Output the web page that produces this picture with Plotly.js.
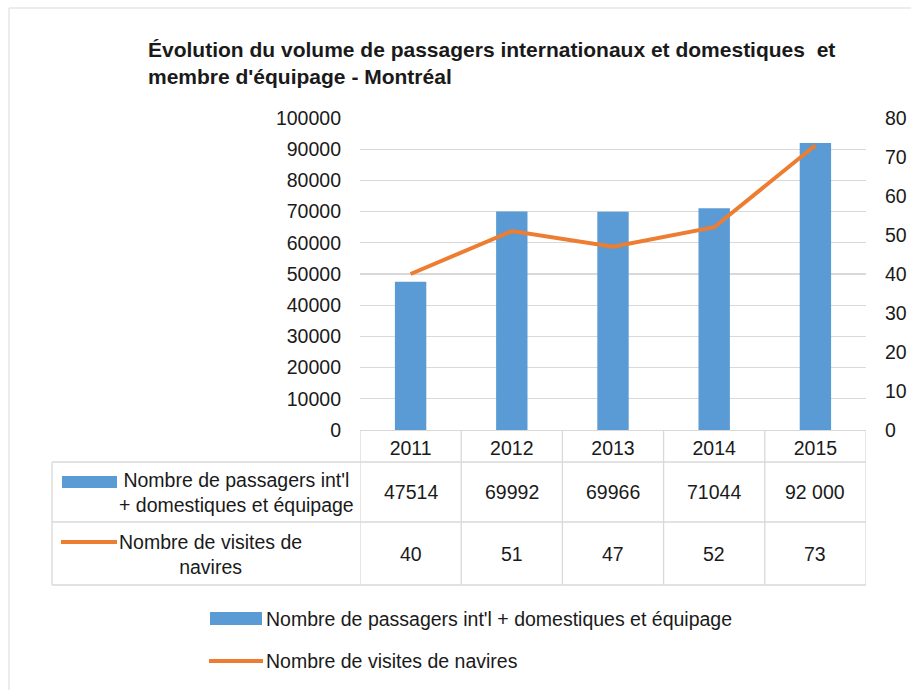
<!DOCTYPE html>
<html>
<head>
<meta charset="utf-8">
<script src="https://cdn.plot.ly/plotly-3.0.1.min.js"></script>
<style>html,body{margin:0;padding:0;background:#fff;}#chart{width:911px;height:690px;}</style>
</head>
<body>
<div id="chart"></div>
<script>
// ---- data ----
const years = ['2011', '2012', '2013', '2014', '2015'];
const passengers = [47514, 69992, 69966, 71044, 92000];
const visits = [40, 51, 47, 52, 73];
const passengerLabels = ['47514', '69992', '69966', '71044', '92 000'];
const visitLabels = ['40', '51', '47', '52', '73'];
const seriesNames = ["Nombre de passagers int'l + domestiques et équipage", 'Nombre de visites de navires'];
const tableNames = ["Nombre de passagers int'l<br>+ domestiques et équipage", 'Nombre de visites de<br>navires'];
const chartTitle = "Évolution du volume de passagers internationaux et domestiques  et<br>membre d'équipage - Montréal";

// ---- layout geometry (pixels) ----
const W = 911, H = 690;
const PL = 360, PR = 866, PT = 118, PB = 430;
const px = x => (x - PL) / (PR - PL);
const py = y => (PB - y) / (PB - PT);

const FONT = 'Liberation Sans, Arial, sans-serif';
const FS = 19.5;
const BLUE = '#5b9bd5', ORANGE = '#ed7d31', GRID = '#d9d9d9', TXT = '#1a1a1a';

const traces = [
  {type: 'bar', x: years, y: passengers, name: seriesNames[0], marker: {color: BLUE}, width: 0.31, yaxis: 'y', hoverinfo: 'x+y'},
  {type: 'scatter', mode: 'lines', x: years, y: visits, name: seriesNames[1], line: {color: ORANGE, width: 4}, yaxis: 'y2', hoverinfo: 'x+y'}
];

const shapes = [];
const annotations = [];
const txt = (o) => Object.assign({showarrow: false, yanchor: 'middle', font: {family: FONT, size: FS, color: TXT}}, o);
// outer frame
shapes.push({type: 'rect', xref: 'paper', yref: 'paper', x0: px(9), x1: px(1000), y0: py(800), y1: py(8), line: {color: GRID, width: 1}});
// table vertical lines
for (let i = 0; i <= years.length; i++) {
  shapes.push({type: 'line', xref: 'x', yref: 'paper', x0: i - 0.5, x1: i - 0.5, y0: py(430), y1: py(585), line: {color: GRID, width: 1.3}});
}
// label column left border
shapes.push({type: 'line', xref: 'paper', yref: 'paper', x0: px(52), x1: px(52), y0: py(462), y1: py(585), line: {color: GRID, width: 1.3}});
// horizontal lines
[462, 522, 585].forEach(y => shapes.push({type: 'line', xref: 'paper', yref: 'paper', x0: px(52), x1: 1, y0: py(y), y1: py(y), line: {color: GRID, width: 1.3}}));
// table keys
shapes.push({type: 'rect', xref: 'paper', yref: 'paper', x0: px(62), x1: px(117), y0: py(488), y1: py(476), fillcolor: BLUE, line: {width: 0}});
shapes.push({type: 'line', xref: 'paper', yref: 'paper', x0: px(61), x1: px(117), y0: py(542), y1: py(542), line: {color: ORANGE, width: 4}});
// legend keys
shapes.push({type: 'rect', xref: 'paper', yref: 'paper', x0: px(210), x1: px(262), y0: py(625), y1: py(612), fillcolor: BLUE, line: {width: 0}});
shapes.push({type: 'line', xref: 'paper', yref: 'paper', x0: px(209), x1: px(263), y0: py(661), y1: py(661), line: {color: ORANGE, width: 4}});

// table values (x positioned through the category axis)
years.forEach((yr, i) => {
  annotations.push(txt({xref: 'x', yref: 'paper', x: i, xanchor: 'center', y: py(492), text: passengerLabels[i]}));
  annotations.push(txt({xref: 'x', yref: 'paper', x: i, xanchor: 'center', y: py(554), text: visitLabels[i]}));
});
// table row names
annotations.push(txt({xref: 'paper', yref: 'paper', x: px(117), y: py(492), xanchor: 'left', align: 'center', text: tableNames[0]}));
annotations.push(txt({xref: 'paper', yref: 'paper', x: px(117), y: py(554), xanchor: 'left', align: 'center', text: tableNames[1]}));
// legend text
annotations.push(txt({xref: 'paper', yref: 'paper', x: px(264), y: py(619), xanchor: 'left', text: seriesNames[0]}));
annotations.push(txt({xref: 'paper', yref: 'paper', x: px(264), y: py(661), xanchor: 'left', text: seriesNames[1]}));

const layout = {
  width: W, height: H,
  margin: {l: PL, r: W - PR, t: PT, b: H - PB, pad: 0},
  paper_bgcolor: '#fff', plot_bgcolor: '#fff',
  showlegend: false,
  title: {text: chartTitle, x: 148 / W, xanchor: 'left', xref: 'container', y: 1 - 57 / H, yanchor: 'middle', yref: 'container',
          font: {family: FONT, size: 21, color: TXT, weight: 'bold'}},
  font: {family: FONT, size: FS, color: TXT},
  xaxis: {type: 'category', range: [-0.5, 4.5], showgrid: false, showline: true, linecolor: GRID, linewidth: 1.3, ticks: '', tickfont: {family: FONT, size: FS, color: TXT}, ticklabelstandoff: 0, fixedrange: true},
  yaxis: {range: [0, 100000], dtick: 10000, tickformat: 'd', showgrid: true, gridcolor: GRID, gridwidth: 1.3, zeroline: false, showline: false, ticks: '', ticklabelstandoff: 18, tickfont: {family: FONT, size: FS, color: TXT}, fixedrange: true},
  yaxis2: {range: [0, 80], dtick: 10, overlaying: 'y', side: 'right', showgrid: false, zeroline: false, showline: false, ticks: '', ticklabelstandoff: 18, tickfont: {family: FONT, size: FS, color: TXT}, fixedrange: true},
  shapes: shapes,
  annotations: annotations
};

Plotly.newPlot('chart', traces, layout, {displayModeBar: false, staticPlot: true});
</script>
</body>
</html>
